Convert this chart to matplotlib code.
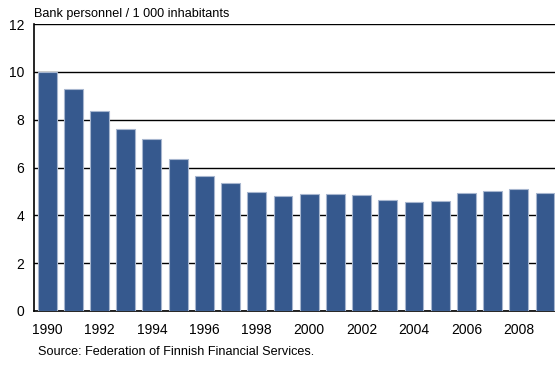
import matplotlib
matplotlib.use("Agg")
import matplotlib.pyplot as plt

years = list(range(1990, 2010))
personnel = [10.0, 9.27, 8.35, 7.6, 7.18, 6.35, 5.66, 5.35, 4.96, 4.82,
             4.89, 4.9, 4.84, 4.65, 4.56, 4.59, 4.93, 5.0, 5.1, 4.93]
yticks = [0, 2, 4, 6, 8, 10, 12]

plt.rcParams['font.family'] = ['Liberation Sans', 'DejaVu Sans']

fig = plt.figure(figsize=(5.55, 3.65), dpi=100)
ax = fig.add_axes([34/555, 1 - 311/365, 1 - 34/555, 287/365])

x = list(range(len(years)))
ax.bar(x, personnel, width=0.72, color="#36598e", edgecolor="#a7b6cf",
       linewidth=0.8, zorder=3)

ax.set_ylim(0, 12)
ax.set_xlim(-0.5, 19.38)
ax.set_yticks(yticks)
ax.set_xticks(x[::2])
ax.set_xticklabels([str(y) for y in years[::2]])
ax.tick_params(length=0, labelsize=10)
ax.tick_params(axis="x", pad=9)
ax.tick_params(axis="y", pad=7)
ax.grid(axis="y", color="black", linewidth=1.0, zorder=1)

for s in ["top", "right"]:
    ax.spines[s].set_visible(False)
ax.spines["left"].set_linewidth(1.2)
ax.spines["bottom"].set_linewidth(1.2)

fig.text(34/555, 1 - 14/365, "Bank personnel / 1 000 inhabitants",
         fontsize=9.1, va="center", ha="left")
fig.text(38/555, 1 - 352/365, "Source: Federation of Finnish Financial Services.",
         fontsize=9.1, va="center", ha="left")

fig.savefig("out.png", dpi=100)
